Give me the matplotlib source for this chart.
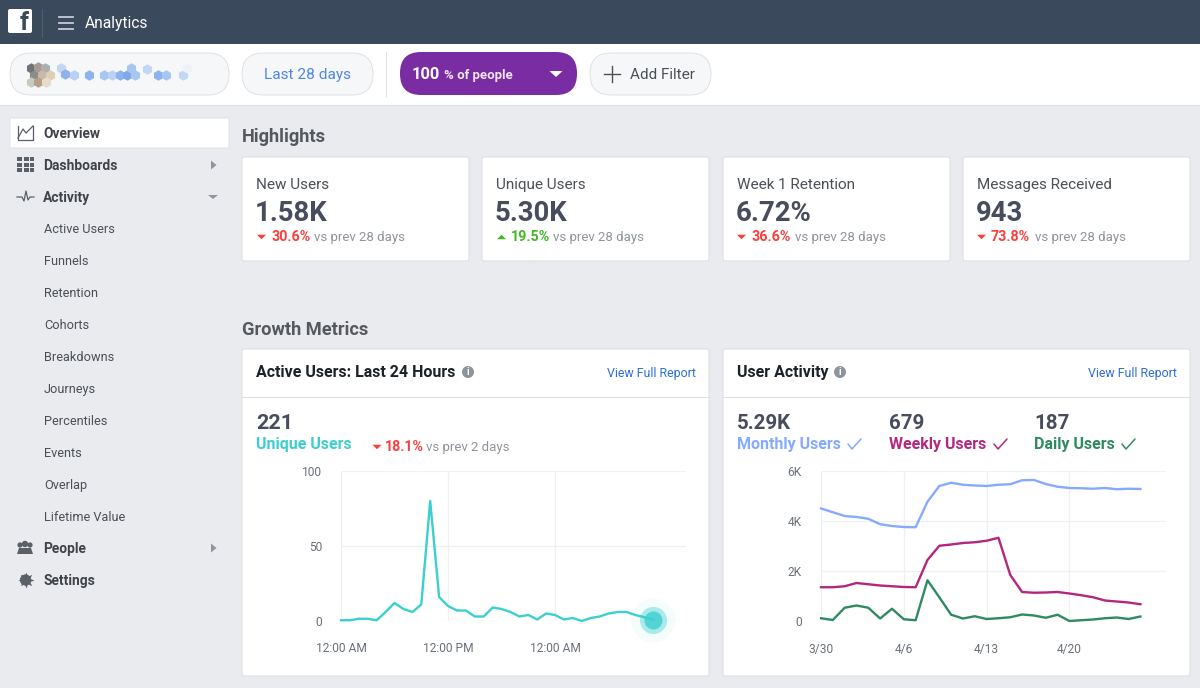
#!/usr/bin/env python
import matplotlib
matplotlib.use('Agg')
import matplotlib.pyplot as plt
from matplotlib.patches import FancyBboxPatch, Polygon, Rectangle, Circle

plt.rcParams['font.family'] = ['Roboto', 'DejaVu Sans']

W, H = 1200, 688

# active users, hourly
active_values = [0.5, 0.5, 1.5, 1.5, 0.5, 6, 12, 8, 6, 11, 80, 16, 10, 7, 7, 3, 3, 9,
                 8, 6, 3, 4, 1, 5, 4, 1, 2, 0, 2, 3, 5, 6, 6, 4, 2.5, 1]
active_ticks = [0, 12, 24]
active_ticklabels = ['12:00 AM', '12:00 PM', '12:00 AM']
active_yticks = [0, 50, 100]
active_yticklabels = ['0', '50', '100']

# user activity, daily
monthly_users = [4500, 4350, 4200, 4160, 4090, 3870, 3800, 3760, 3750, 4770, 5400, 5530,
                 5450, 5420, 5400, 5450, 5470, 5630, 5640, 5480, 5370, 5320, 5310, 5290,
                 5320, 5270, 5290, 5280]
weekly_users = [1350, 1350, 1390, 1520, 1470, 1420, 1390, 1360, 1350, 2440, 3010, 3060,
                3120, 3150, 3210, 3330, 1840, 1160, 1130, 1140, 1160, 1100, 1030, 950,
                820, 780, 740, 670]
daily_users = [110, 40, 530, 620, 530, 100, 490, 70, 30, 1630, 950, 250, 100, 190, 80,
               110, 150, 260, 220, 130, 250, 0, 30, 60, 110, 140, 80, 180]
activity_ticks = [0, 7, 14, 21]
activity_ticklabels = ['3/30', '4/6', '4/13', '4/20']
activity_yticks = [0, 2000, 4000, 6000]
activity_yticklabels = ['0', '2K', '4K', '6K']

# highlight cards
card_titles = ['New Users', 'Unique Users', 'Week 1 Retention', 'Messages Received']
card_values = ['1.58K', '5.30K', '6.72%', '943']
card_deltas = ['30.6%', '19.5%', '36.6%', '73.8%']
card_up = [False, True, False, False]

nav_sub = ['Active Users', 'Funnels', 'Retention', 'Cohorts', 'Breakdowns', 'Journeys',
           'Percentiles', 'Events', 'Overlap', 'Lifetime Value']

BG = '#e9ebee'
TOPBAR = '#3a4a5c'
TEAL = '#3ccfcf'
RED = '#fa3e3e'
GREEN = '#42b72a'
DARK = '#4b4f56'
GREY = '#90949c'
BORDER = '#dddfe2'
PILL = '#dfe1e5'
BLUE = '#85aaff'
MAGENTA = '#b5267e'
DGREEN = '#2f8a62'
LINK = '#2d6fd6'


def px(size):
    return size * 0.72


def label(ax, x, y, s, size=14, color=DARK, weight='normal', ha='left'):
    ax.text(x, y + 0.8, s, fontsize=px(size), color=color, fontweight=weight, ha=ha, va='center')


def box(ax, x0, y0, x1, y1, radius, fc, ec='none', lw=1):
    ax.add_patch(FancyBboxPatch((x0 + radius, y0 + radius), x1 - x0 - 2 * radius, y1 - y0 - 2 * radius,
                                boxstyle='round,pad=%f,rounding_size=%f' % (radius, radius),
                                fc=fc, ec=ec, lw=lw))


def triangle(ax, x, y, up, color, w=4.5, h=4.5):
    if up:
        pts = [(x - w, y + h / 2), (x + w, y + h / 2), (x, y - h / 2)]
    else:
        pts = [(x - w, y - h / 2), (x + w, y - h / 2), (x, y + h / 2)]
    ax.add_patch(Polygon(pts, closed=True, fc=color, ec='none'))


def check(ax, x, y, color):
    ax.plot([x, x + 4, x + 13], [y, y + 5, y - 5], color=color, lw=1.1, solid_capstyle='round')


def info(ax, x, y):
    ax.add_patch(Circle((x, y), 6, fc='#8d949e', ec='none'))
    ax.text(x, y, 'i', fontsize=px(10), color='white', fontweight='bold', ha='center', va='center')


def draw_topbar(ax):
    ax.add_patch(Rectangle((0, 0), W, 44, fc=TOPBAR, ec='none'))
    ax.add_patch(Rectangle((0, 44), W, 61, fc='white', ec='none'))
    ax.plot([0, W], [105, 105], color=BORDER, lw=0.8)
    box(ax, 8, 9, 32, 33, 2, 'white')
    ax.text(24, 23.5, 'f', fontsize=px(25), color=TOPBAR, fontweight='bold', ha='center', va='center')
    ax.plot([42, 42], [9, 37], color='#4e5d6e', lw=0.8)
    for y in [17, 23, 28.5]:
        ax.plot([59, 73], [y, y], color='#c8ccd2', lw=1.3)
    label(ax, 85, 23, 'Analytics', 15.5, 'white')

    # filter pills
    box(ax, 10, 53, 229, 95, 21, '#f6f7f8', PILL, 0.7)
    box(ax, 242, 53, 373, 95, 21, '#f6f7f8', PILL, 0.7)
    label(ax, 307.5, 74, 'Last 28 days', 15.4, '#4f86e8', ha='center')
    ax.plot([386, 386], [52, 96], color=PILL, lw=0.8)
    box(ax, 400, 52, 577, 95, 21, '#7a2da3')
    label(ax, 412, 74, '100', 16.5, 'white', 'bold')
    label(ax, 444, 75, '% of people', 13.3, '#f0e6f6', 'bold')
    triangle(ax, 556, 74, False, 'white', 6.5, 6)
    box(ax, 590, 53, 711, 95, 21, '#f6f7f8', PILL, 0.7)
    ax.plot([604, 620], [73.5, 73.5], color='#4b4f56', lw=1)
    ax.plot([612, 612], [65.5, 81.5], color='#4b4f56', lw=1)
    label(ax, 630, 74, 'Add Filter', 15.2, '#4b4f56')

    # blurred page name
    dark_dots = [(31, 68, '#6f7276'), (38, 67, '#a89a92'), (45, 68, '#a9b0ae'), (34, 75, '#8b8d86'),
                 (42, 75, '#c9b9a6'), (50, 75, '#e0cdb4'), (31, 82, '#c3ccbf'), (38, 82, '#b89f87'),
                 (46, 82, '#e5dccb')]
    light_dots = [(61, 68, '#c4d6f5'), (65, 74, '#8db2ee'), (74, 75, '#b9cff3'), (89, 75, '#8db2ee'),
                  (104, 75, '#a9c5f1'), (112, 75, '#bcd1f4'), (120, 75, '#8db2ee'), (127, 75, '#7ea8ec'),
                  (131, 68, '#a9c5f1'), (135, 75, '#a9c5f1'), (147, 69, '#c4d6f5'), (158, 75, '#8db2ee'),
                  (166, 75, '#a9c5f1'), (183, 75, '#c4d6f5'), (187, 68, '#eef2f8')]
    for x, y, c in dark_dots + light_dots:
        ax.plot(x, y, marker='h', ms=px(10.5), color=c, mec='none')


def draw_sidebar(ax):
    box(ax, 10, 118, 229, 148, 1, 'white', '#dddfe2', 0.6)
    ink = '#5a5f68'
    # overview icon
    ax.plot([18, 18, 33, 33], [126, 140, 140, 126], color=ink, lw=0.9)
    ax.plot([18, 23, 26, 33], [138, 129, 133, 126], color=ink, lw=0.9)
    # dashboards icon
    for y in [157, 162.5, 168]:
        for x, w in [(17, 5), (23.5, 5), (29.5, 4)]:
            ax.add_patch(Rectangle((x, y), w, 4.2, fc=ink, ec='none'))
    # activity icon
    ax.plot([17, 22, 24, 26, 28, 30, 34], [197, 197, 201, 191, 200, 197, 197], color=ink, lw=0.9)
    # people icon
    for x, r in [(20, 2.6), (30, 2.6), (25, 3.2)]:
        ax.add_patch(Circle((x, 545 if x != 25 else 544), r, fc=ink, ec='none'))
    ax.add_patch(Polygon([(17, 554), (19, 548), (31, 548), (33, 554)], fc=ink, ec='none'))
    # settings icon
    ax.add_patch(Circle((25.5, 580), 5.6, fc=ink, ec='none'))
    ax.plot(25.5, 580, marker=(8, 1, 0), ms=px(16), color=ink, mec='none')
    ax.add_patch(Circle((25.5, 580), 2.4, fc=BG, ec='none'))

    for y, s in [(133, 'Overview'), (165, 'Dashboards'), (197, 'Activity'), (548, 'People'), (580, 'Settings')]:
        label(ax, 43, y, s, 13.7, '#3f4349', 'bold')
    for i, s in enumerate(nav_sub):
        label(ax, 44, 229 + 32 * i, s, 12.8, '#4b4f56')
    for y in [165, 548]:
        ax.add_patch(Polygon([(211, y - 4.5), (211, y + 4.5), (216.5, y)], fc='#90949c', ec='none'))
    triangle(ax, 213, 197, False, '#90949c', 5, 4)


def draw_cards(ax):
    label(ax, 242, 136, 'Highlights', 18.3, '#55585e', 'bold')
    label(ax, 242, 329, 'Growth Metrics', 18.3, '#55585e', 'bold')
    lefts = [242, 482, 723, 963]
    delta_x = [271, 511, 751, 991]
    vs_x = [314, 553, 795, 1035]
    for i, x0 in enumerate(lefts):
        box(ax, x0, 157, x0 + 227, 261, 2, 'white', BORDER, 0.8)
        label(ax, x0 + 14, 184, card_titles[i], 15.3, DARK)
        label(ax, x0 + 13, 213, card_values[i], 27.5, '#474d5c', 'bold')
        color = GREEN if card_up[i] else RED
        triangle(ax, delta_x[i] - 9.5, 237, card_up[i], color)
        label(ax, delta_x[i], 236.5, card_deltas[i], 14.2, color, 'bold')
        label(ax, vs_x[i], 236.5, 'vs prev 28 days', 13.3, GREY)

    for x0, title, info_x in [(242, 'Active Users: Last 24 Hours', 468), (723, 'User Activity', 840)]:
        box(ax, x0, 349, x0 + 467, 676, 2, 'white', BORDER, 0.8)
        ax.plot([x0, x0 + 467], [397, 397], color=BORDER, lw=0.8)
        label(ax, x0 + 14, 371.5, title, 16, '#1d2129', 'bold')
        info(ax, info_x, 372)
        label(ax, x0 + 454, 372.5, 'View Full Report', 12.4, LINK, ha='right')

    label(ax, 256, 423, '221', 21.5, '#474d5c', 'bold')
    label(ax, 256, 443.5, 'Unique Users', 16, TEAL, 'bold')
    triangle(ax, 377, 447, False, RED)
    label(ax, 385, 446.5, '18.1%', 14.2, RED, 'bold')
    label(ax, 426, 446.5, 'vs prev 2 days', 13.3, GREY)

    for x, value, name, color, cx in [(737, '5.29K', 'Monthly Users', BLUE, 848),
                                      (889, '679', 'Weekly Users', MAGENTA, 994),
                                      (1034, '187', 'Daily Users', DGREEN, 1122)]:
        label(ax, x, 423, value, 20.5, '#474d5c', 'bold')
        label(ax, x, 443.5, name, 16, color, 'bold')
        check(ax, cx, 444, color)


def style_chart(ax, xticks, xlabels, yticks, ylabels, ymax):
    ax.set_facecolor('none')
    for s in ax.spines.values():
        s.set_visible(False)
    ax.set_ylim(0, ymax)
    ax.set_xticks(xticks)
    ax.set_xticklabels(xlabels)
    ax.set_yticks(yticks)
    ax.set_yticklabels(ylabels)
    ax.tick_params(length=0, labelsize=px(12), labelcolor='#6a7078')
    ax.tick_params(axis='y', pad=px(19))
    ax.tick_params(axis='x', pad=px(21.5))
    ax.grid(True, color='#eef0f2', lw=0.9)
    ax.set_axisbelow(True)


def chart_axes(fig, x0, y0, x1, y1):
    return fig.add_axes([x0 / W, 1 - y1 / H, (x1 - x0) / W, (y1 - y0) / H])


def main():
    fig = plt.figure(figsize=(W / 100, H / 100), dpi=100, facecolor=BG)
    ax = fig.add_axes([0, 0, 1, 1])
    ax.set_xlim(0, W)
    ax.set_ylim(H, 0)
    ax.axis('off')

    draw_topbar(ax)
    draw_sidebar(ax)
    draw_cards(ax)

    # 8.92 px per hour
    left = chart_axes(fig, 341, 471, 686, 621)
    style_chart(left, active_ticks, active_ticklabels, active_yticks, active_yticklabels, 100)
    left.set_xlim(0, 345 / 8.92)
    hours = list(range(len(active_values)))
    left.plot(hours, active_values, color=TEAL, lw=1.7, clip_on=False, zorder=3)
    for ms, alpha in [(31.5, 0.05), (19.5, 0.4), (13, 0.8)]:
        left.plot(hours[-1], active_values[-1], 'o', ms=ms, color=TEAL, mec='none',
                  alpha=alpha, clip_on=False, zorder=4)

    # 11.83 px per day
    right = chart_axes(fig, 821, 471, 1166, 621)
    style_chart(right, activity_ticks, activity_ticklabels, activity_yticks, activity_yticklabels, 6000)
    right.set_xlim(0, 345 / 11.83)
    days = list(range(len(monthly_users)))
    right.plot(days, monthly_users, color=BLUE, lw=1.7, clip_on=False)
    right.plot(days, weekly_users, color=MAGENTA, lw=1.7, clip_on=False)
    right.plot(days, daily_users, color=DGREEN, lw=1.7, clip_on=False)

    fig.savefig('out.png', dpi=100, facecolor=BG)


if __name__ == '__main__':
    main()
